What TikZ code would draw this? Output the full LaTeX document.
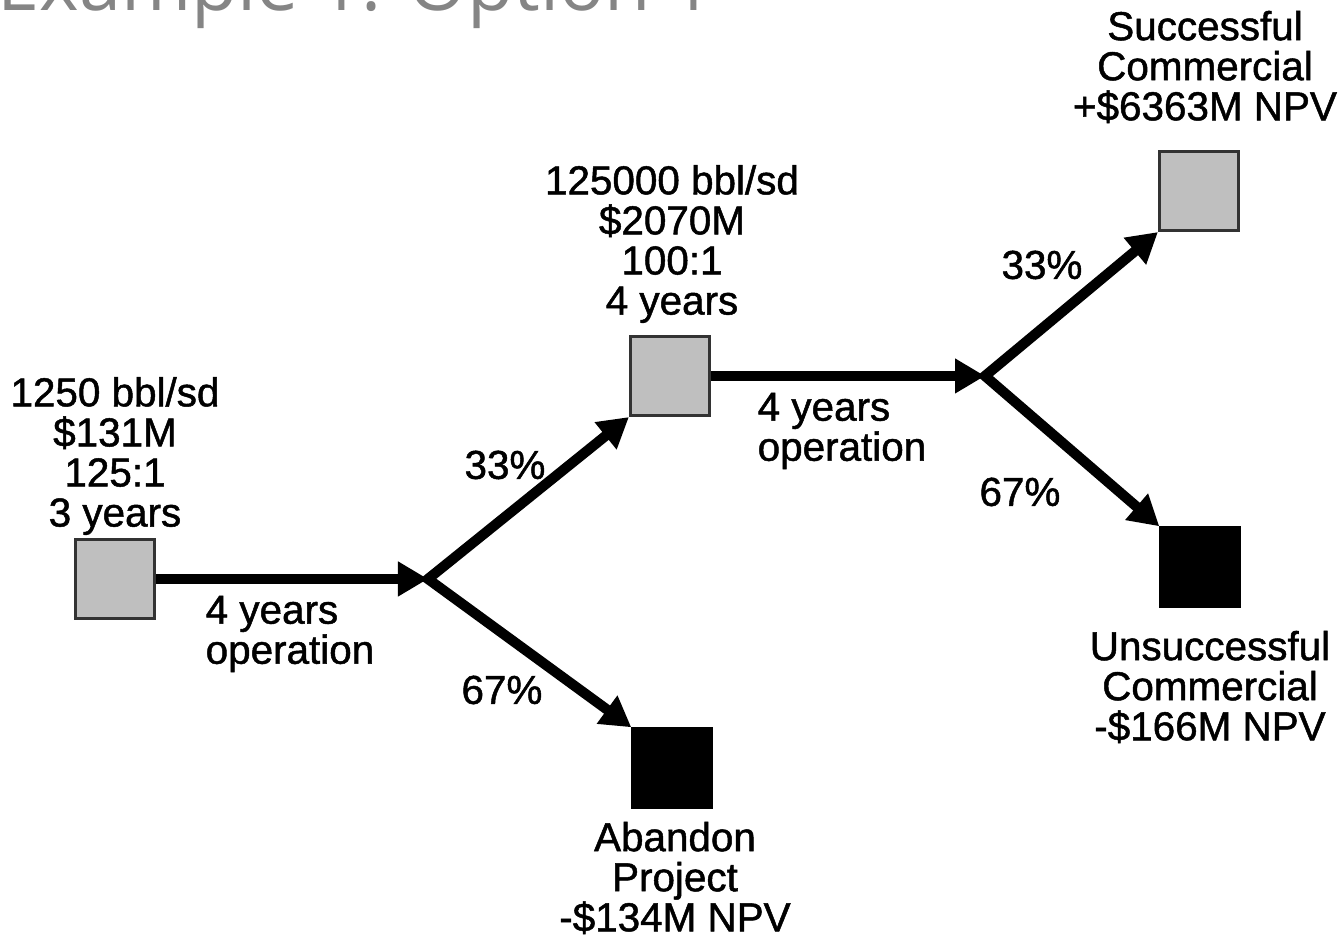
\documentclass[tikz,border=0pt]{standalone}
\usepackage{fontspec}
\setmainfont{Liberation Sans}
\newfontfamily\labelfont{Liberation Sans}[UprightFeatures={FakeBold=1.2}]
\newfontfamily\titlefont{Open Sans}
\usetikzlibrary{arrows.meta}
\usetikzlibrary{calc}
\tikzstyle{decision}=[rectangle,fill=black!25,draw=black!80,line width=0.9pt,minimum size=0.79cm,inner sep=0pt]
\tikzstyle{endnode}=[rectangle,fill=black,draw=black,minimum size=0.8cm,inner sep=0pt]
\tikzstyle{edge} = [draw,line width=2.9pt,-{Triangle[length=0.3cm,width=0.33cm]}]
\tikzstyle{forkedge} = [draw,line width=2.9pt,miter limit=20,{Triangle[length=0.3cm,width=0.33cm]}-{Triangle[length=0.3cm,width=0.33cm]}]
\tikzstyle{info} = [align=center,inner sep=0pt,font=\labelfont\fontsize{11.5}{11.4}\selectfont]
\tikzstyle{weight} = [inner sep=0pt,font=\labelfont\fontsize{11.5}{11.4}\selectfont]

\begin{document}
\begin{tikzpicture}

   \clip (0,0) rectangle (13.38,9.36);

% Title
   \node[anchor=base west, text=black!48, font=\titlefont\fontsize{21.5}{26}\selectfont] (title) at (-0.15, 9.25) {Example 1: Option 1};

%decision boxes
    \foreach \pos/\name in {{(1.15,3.57)/start}, {(6.70,5.60)/pilot}, {(11.99,7.45)/success}}
        \node[decision] (\name) at \pos {};
%end boxes
    \foreach \pos/\name in {{(6.72,1.68)/abandon}, {(12.00,3.69)/fail}}
        \node[endnode] (\name) at \pos {};
%chance points
    \coordinate (c1) at (4.28, 3.57);
    \coordinate (c2) at (9.85, 5.60);

    % Connect boxes with arrows
    \foreach \source/ \dest in {start/c1, pilot/c2}
        \path[edge] (\source.east) -- (\dest);
    \path[forkedge] (pilot.south west) -- (c1) -- (abandon.north west);
    \path[forkedge] (success.south west) -- (c2) -- (fail.north west);

%P1 above
  \node[info] (p1) at (1.15, 4.80) {1250 bbl/sd\\\$131M\\125:1\\3 years};
%P2 above
  \node[info] (p2) at (6.72, 6.92) {125000 bbl/sd\\\$2070M\\100:1\\4 years};
%P3 outcomes
  \node[info] (s) at (12.05, 8.69) {Successful\\Commercial\\+\$6363M NPV};
  \node[info] (u) at (12.10, 2.49) {Unsuccessful\\Commercial\\-\$166M NPV};
  \node[info] (a) at (6.75, 0.58) {Abandon\\Project\\-\$134M NPV};

% Operation labels
  \node[info, align=left, anchor=west] (op1) at (2.05, 3.02) {4 years\\operation};
  \node[info, align=left, anchor=west] (op2) at (7.57, 5.05) {4 years\\operation};

% Probabilities
  \node[weight] (w1) at (5.05, 4.71) {33\%};
  \node[weight] (w2) at (5.02, 2.46) {67\%};
  \node[weight] (w3) at (10.42, 6.71) {33\%};
  \node[weight] (w4) at (10.20, 4.44) {67\%};

\end{tikzpicture}
\end{document}
